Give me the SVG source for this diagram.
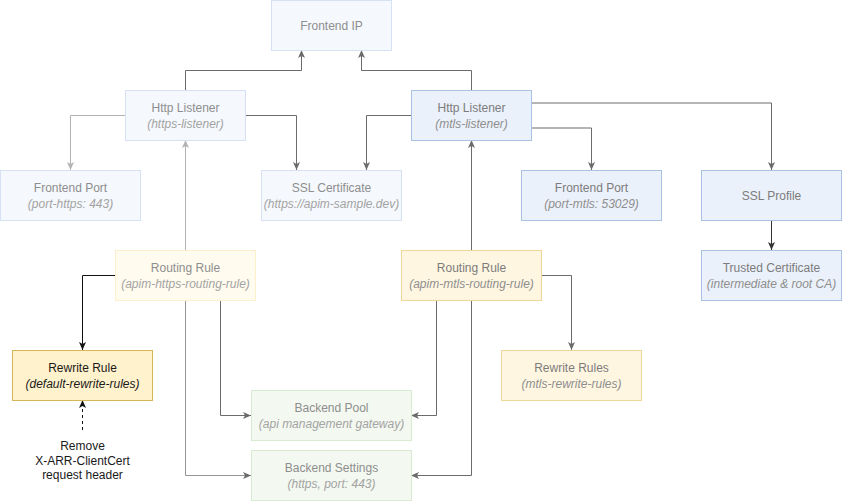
<svg xmlns="http://www.w3.org/2000/svg" width="843" height="501" viewBox="0 0 843 501">
<style>
text{font-family:"Liberation Sans",Arial,sans-serif;font-size:12px;text-anchor:middle}
.it{font-style:italic}
.fb rect{fill:#f5f8fd;stroke:#d6e2f3}
.fb text{fill:#8e8e8e}
.fb text.it{fill:#a3a3a3}
.mb rect{fill:#ebf1fb;stroke:#a9c1e2}
.mb text{fill:#7c7c7c}
.mb text.it{fill:#8e8e8e}
.fy rect{fill:#fffbee;stroke:#fbefcc}
.fy text{fill:#8e8e8e}
.fy text.it{fill:#a3a3a3}
.my rect{fill:#fff6e1;stroke:#eed699}
.my text{fill:#7c7c7c}
.my text.it{fill:#8e8e8e}
.ry rect{fill:#fff2cc;stroke:#d6b656}
.ry text{fill:#1a1a1a}
.fg rect{fill:#f3f8f0;stroke:#d9ead3}
.fg text{fill:#8e8e8e}
.fg text.it{fill:#a3a3a3}
rect{stroke-width:1}
#edges path{fill:none;stroke-width:1}
.d{stroke:#6b6b6b}
.l{stroke:#b3b3b3}
.k{stroke:#111}
.g{stroke:#333}
.note{fill:#1a1a1a}
</style>
<defs>
<marker id="ad" markerUnits="userSpaceOnUse" markerWidth="10" markerHeight="10" refX="8" refY="4" orient="auto" viewBox="0 0 10 8"><path d="M0,0.5 L8,4 L0,7.5 L2,4 z" fill="#6b6b6b"/></marker>
<marker id="al" markerUnits="userSpaceOnUse" markerWidth="10" markerHeight="10" refX="8" refY="4" orient="auto" viewBox="0 0 10 8"><path d="M0,0.5 L8,4 L0,7.5 L2,4 z" fill="#b3b3b3"/></marker>
<marker id="ak" markerUnits="userSpaceOnUse" markerWidth="10" markerHeight="10" refX="8" refY="4" orient="auto" viewBox="0 0 10 8"><path d="M0,0.5 L8,4 L0,7.5 L2,4 z" fill="#111"/></marker>
<marker id="ag" markerUnits="userSpaceOnUse" markerWidth="10" markerHeight="10" refX="8" refY="4" orient="auto" viewBox="0 0 10 8"><path d="M0,0.5 L8,4 L0,7.5 L2,4 z" fill="#333"/></marker>
</defs>
<rect width="843" height="501" fill="#fff"/>
<g id="edges">
<path class="d" d="M185.5,90 V70.5 H301.5 V50" marker-end="url(#ad)"/>
<path class="d" d="M471.5,90 V70.5 H361.5 V50" marker-end="url(#ad)"/>
<path class="l" d="M125,115.5 H70.5 V170" marker-end="url(#al)"/>
<path class="d" d="M246,115.5 H296.5 V170" marker-end="url(#ad)"/>
<path class="d" d="M411,115.5 H366.5 V170" marker-end="url(#ad)"/>
<path class="d" d="M532,103 H771.5 V170" marker-end="url(#ad)"/>
<path class="d" d="M532,128 H591.5 V170" marker-end="url(#ad)"/>
<path class="g" d="M771.5,220 V250" marker-end="url(#ag)"/>
<path class="l" d="M185.5,250 V140" marker-end="url(#al)"/>
<path class="k" d="M115,275.5 H82.5 V350" marker-end="url(#ak)"/>
<path class="d" d="M220.5,300 V415.5 H251" marker-end="url(#ad)"/>
<path d="M185.5,300 V475.5 H251" stroke="#959595" marker-end="url(#ad)"/>
<path class="d" d="M471.5,250 V140" marker-end="url(#ad)"/>
<path class="d" d="M542,275.5 H571.5 V350" marker-end="url(#ad)"/>
<path class="d" d="M436.5,300 V415.5 H411" marker-end="url(#ad)"/>
<path class="d" d="M471.5,300 V475.5 H411" marker-end="url(#ad)"/>
<path class="k" d="M82.5,430 V400" stroke-dasharray="3,3" marker-end="url(#ak)"/>
</g>
<g id="frontend-ip" class="fb"><rect x="271.5" y="0.5" width="120" height="50"/><text x="331.5" y="29.5">Frontend IP</text></g>
<g id="https-listener" class="fb"><rect x="125.5" y="90.5" width="120" height="50"/><text x="185.5" y="112">Http Listener</text><text class="it" x="185.5" y="127.5">(https-listener)</text></g>
<g id="frontend-port-https" class="fb"><rect x="0.5" y="170.5" width="140" height="50"/><text x="70.5" y="192">Frontend Port</text><text class="it" x="70.5" y="207.5">(port-https: 443)</text></g>
<g id="ssl-certificate" class="fb"><rect x="261.5" y="170.5" width="140" height="50"/><text x="331.5" y="192">SSL Certificate</text><text class="it" x="331.5" y="207.5">(https://apim-sample.dev)</text></g>
<g id="mtls-listener" class="mb"><rect x="411.5" y="90.5" width="120" height="50"/><text x="471.5" y="112">Http Listener</text><text class="it" x="471.5" y="127.5">(mtls-listener)</text></g>
<g id="frontend-port-mtls" class="mb"><rect x="521.5" y="170.5" width="140" height="50"/><text x="591.5" y="192">Frontend Port</text><text class="it" x="591.5" y="207.5">(port-mtls: 53029)</text></g>
<g id="ssl-profile" class="mb"><rect x="701.5" y="170.5" width="140" height="50"/><text x="771.5" y="199.5">SSL Profile</text></g>
<g id="trusted-certificate" class="mb"><rect x="701.5" y="250.5" width="140" height="50"/><text x="771.5" y="272">Trusted Certificate</text><text class="it" x="771.5" y="287.5">(intermediate &amp; root CA)</text></g>
<g id="routing-rule-https" class="fy"><rect x="115.5" y="250.5" width="140" height="50"/><text x="185.5" y="272">Routing Rule</text><text class="it" x="185.5" y="287.5">(apim-https-routing-rule)</text></g>
<g id="routing-rule-mtls" class="my"><rect x="401.5" y="250.5" width="140" height="50"/><text x="471.5" y="272">Routing Rule</text><text class="it" x="471.5" y="287.5">(apim-mtls-routing-rule)</text></g>
<g id="rewrite-rule" class="ry"><rect x="12.5" y="350.5" width="140" height="50"/><text x="82.5" y="372">Rewrite Rule</text><text class="it" x="82.5" y="387.5">(default-rewrite-rules)</text></g>
<g id="rewrite-rules-mtls" class="my"><rect x="501.5" y="350.5" width="140" height="50"/><text x="571.5" y="372">Rewrite Rules</text><text class="it" x="571.5" y="387.5">(mtls-rewrite-rules)</text></g>
<g id="backend-pool" class="fg"><rect x="251.5" y="390.5" width="160" height="50"/><text x="331.5" y="412">Backend Pool</text><text class="it" x="331.5" y="427.5">(api management gateway)</text></g>
<g id="backend-settings" class="fg"><rect x="251.5" y="450.5" width="160" height="50"/><text x="331.5" y="472">Backend Settings</text><text class="it" x="331.5" y="487.5">(https, port: 443)</text></g>
<g id="note"><text class="note" x="82.5" y="450">Remove</text><text class="note" x="82.5" y="464.5">X-ARR-ClientCert</text><text class="note" x="82.5" y="479">request header</text></g>
</svg>
